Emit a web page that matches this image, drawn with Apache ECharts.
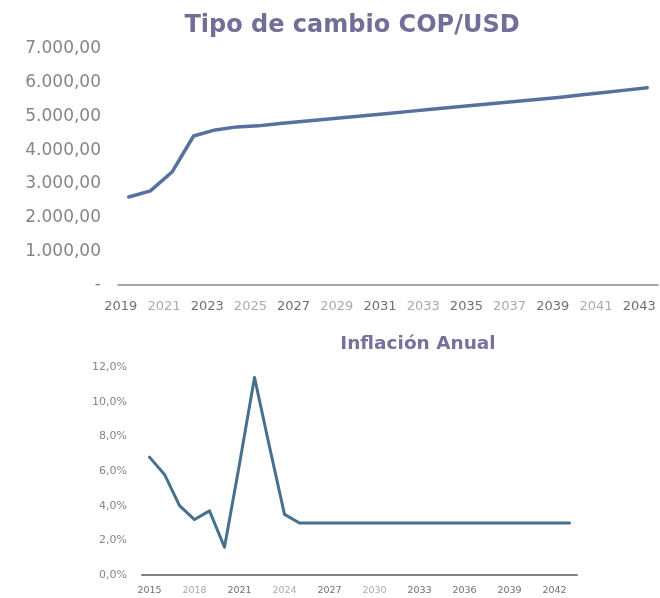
<!DOCTYPE html>
<html>
<head>
<meta charset="UTF-8">
<title>Tipo de cambio e inflación</title>
<script src="https://cdn.jsdelivr.net/npm/echarts@6/dist/echarts.min.js"></script>
<style>
  html, body { margin: 0; padding: 0; background: #fff; }
  #main { width: 660px; height: 598px; }
</style>
</head>
<body>
<div id="main"></div>
<script type="text/javascript">
// Tipo de cambio COP/USD (2019-2043)
var yearsFx = ['2019','2020','2021','2022','2023','2024','2025','2026','2027','2028','2029','2030','2031',
               '2032','2033','2034','2035','2036','2037','2038','2039','2040','2041','2042','2043'];
var fxValues = [2610, 2790, 3350, 4420, 4600, 4690, 4720, 4790, 4850, 4910, 4970, 5030, 5090,
                5150, 5210, 5270, 5330, 5390, 5450, 5510, 5570, 5640, 5710, 5780, 5850];
var fxTicks = ['-', '1.000,00', '2.000,00', '3.000,00', '4.000,00', '5.000,00', '6.000,00', '7.000,00'];

// Inflación anual (2015-2043)
var yearsInf = ['2015','2016','2017','2018','2019','2020','2021','2022','2023','2024','2025','2026','2027',
                '2028','2029','2030','2031','2032','2033','2034','2035','2036','2037','2038','2039',
                '2040','2041','2042','2043'];
var infValues = [6.8, 5.8, 4.0, 3.2, 3.7, 1.6, 6.4, 11.4, 7.4, 3.5, 3.0, 3.0, 3.0,
                 3.0, 3.0, 3.0, 3.0, 3.0, 3.0, 3.0, 3.0, 3.0, 3.0, 3.0, 3.0,
                 3.0, 3.0, 3.0, 3.0];
var infTicks = ['0,0%', '2,0%', '4,0%', '6,0%', '8,0%', '10,0%', '12,0%'];

var font = 'DejaVu Sans';
var myChart = echarts.init(document.getElementById('main'));

myChart.setOption({
    backgroundColor: '#ffffff',
    animation: false,
    title: [
        {
            text: 'Tipo de cambio COP/USD',
            left: 347, top: 9, textAlign: 'center',
            textStyle: { fontFamily: font, fontSize: 24, fontWeight: 'bold', color: '#716f98' }
        },
        {
            text: 'Inflación Anual',
            left: 413, top: 330, textAlign: 'center',
            textStyle: { fontFamily: font, fontSize: 18.5, fontWeight: 'bold', color: '#75739b' }
        }
    ],
    grid: [
        { left: 118, right: 2, top: 49, height: 236 },
        { left: 142, right: 83, top: 367, height: 208 }
    ],
    xAxis: [
        {
            type: 'category', gridIndex: 0, data: yearsFx, boundaryGap: true,
            axisLine: { lineStyle: { color: '#8a8a8a', width: 1.5 } },
            axisTick: { show: false },
            axisLabel: {
                interval: 1, margin: 15, fontFamily: font, fontSize: 13,
                padding: [0, 16, 0, 0],
                formatter: function (v, i) { return (i % 4 === 0) ? '{d|' + v + '}' : '{l|' + v + '}'; },
                rich: {
                    d: { color: '#707070', fontFamily: font, fontSize: 13 },
                    l: { color: '#aaaaaa', fontFamily: font, fontSize: 13 }
                }
            }
        },
        {
            type: 'category', gridIndex: 1, data: yearsInf, boundaryGap: true,
            axisLine: { lineStyle: { color: '#808080', width: 2 } },
            axisTick: { show: false },
            axisLabel: {
                interval: 2, margin: 11, fontFamily: font, fontSize: 9.5,
                formatter: function (v, i) { return (i % 6 === 3 && i < 18) ? '{l|' + v + '}' : '{d|' + v + '}'; },
                rich: {
                    d: { color: '#707070', fontFamily: font, fontSize: 9.5 },
                    l: { color: '#aaaaaa', fontFamily: font, fontSize: 9.5 }
                }
            }
        }
    ],
    yAxis: [
        {
            type: 'value', gridIndex: 0, min: 0, max: 7000, interval: 1000,
            axisLine: { show: false }, axisTick: { show: false }, splitLine: { show: false },
            axisLabel: {
                margin: 17, fontFamily: font, fontSize: 17, color: '#858585',
                formatter: function (v) { return fxTicks[Math.round(v / 1000)]; }
            }
        },
        {
            type: 'value', gridIndex: 1, min: 0, max: 12, interval: 2,
            axisLine: { show: false }, axisTick: { show: false }, splitLine: { show: false },
            axisLabel: {
                margin: 15, fontFamily: font, fontSize: 11, color: '#858585',
                formatter: function (v) { return infTicks[Math.round(v / 2)]; }
            }
        }
    ],
    series: [
        {
            type: 'line', xAxisIndex: 0, yAxisIndex: 0, data: fxValues,
            showSymbol: false, symbol: 'none',
            lineStyle: { color: '#56719f', width: 3.5, cap: 'round', join: 'round' }
        },
        {
            type: 'line', xAxisIndex: 1, yAxisIndex: 1, data: infValues,
            showSymbol: false, symbol: 'none',
            lineStyle: { color: '#45718f', width: 3, cap: 'round', join: 'round' }
        }
    ]
});
</script>
</body>
</html>
